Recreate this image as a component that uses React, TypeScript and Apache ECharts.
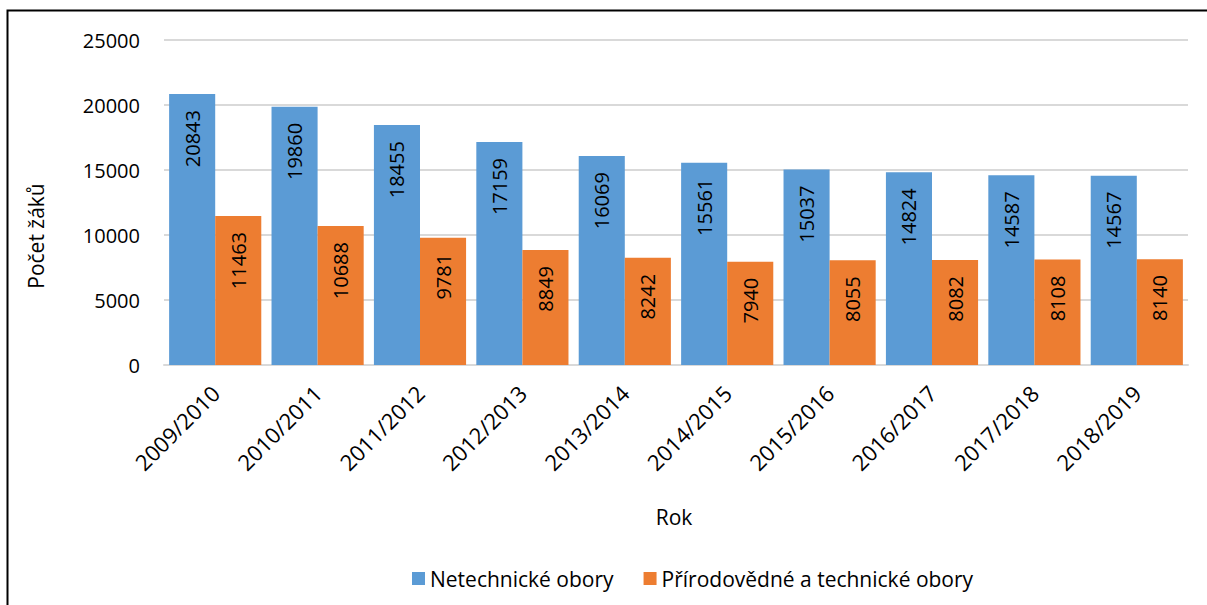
import React, { useEffect, useRef } from "react";
import * as echarts from "echarts";

const categories = ["2009/2010", "2010/2011", "2011/2012", "2012/2013", "2013/2014", "2014/2015", "2015/2016", "2016/2017", "2017/2018", "2018/2019"];
const netechnicke = [20843, 19860, 18455, 17159, 16069, 15561, 15037, 14824, 14587, 14567];
const prirodovedne = [11463, 10688, 9781, 8849, 8242, 7940, 8055, 8082, 8108, 8140];
const seriesNames = ["Netechnické obory", "Přírodovědné a technické obory"];
const yAxisTitle = "Počet žáků";
const xAxisTitle = "Rok";

const FONT = "Open Sans";

export default function App() {
  const ref = useRef<HTMLDivElement>(null);
  useEffect(() => {
    document.body.style.margin = "0";
    const chart = echarts.init(ref.current!, null, { renderer: "svg" });
    const label = {
      show: true,
      position: "insideTop",
      rotate: 90,
      align: "right",
      verticalAlign: "middle",
      distance: 16,
      color: "#000",
      fontFamily: FONT,
      fontSize: 20,
    };
    chart.setOption({
      animation: false,
      backgroundColor: "#fff",
      textStyle: { fontFamily: FONT },
      grid: { left: 164, right: 19, top: 40, bottom: 240 },
      legend: {
        top: 561,
        left: 407,
        itemWidth: 13,
        itemHeight: 13,
        itemGap: 30,
        icon: "rect",
        textStyle: { fontFamily: FONT, fontSize: 21, color: "#000", lineHeight: 25 },
        data: seriesNames,
      },
      xAxis: {
        type: "category",
        data: categories,
        axisLine: { lineStyle: { color: "#d9d9d9", width: 2 } },
        axisTick: { show: false },
        axisLabel: { rotate: 45, margin: 24, color: "#000", fontFamily: FONT, fontSize: 22, interval: 0 },
      },
      yAxis: {
        type: "value",
        min: 0,
        max: 25000,
        interval: 5000,
        axisLine: { show: false },
        axisTick: { show: false },
        splitLine: { lineStyle: { color: "#d9d9d9", width: 2 } },
        axisLabel: { margin: 24, color: "#000", fontFamily: FONT, fontSize: 20, formatter: (v: number) => String(v) },
      },
      series: [
        {
          name: seriesNames[0],
          type: "bar",
          data: netechnicke,
          barGap: "0%",
          barCategoryGap: "10%",
          itemStyle: { color: "#5B9BD5" },
          label,
        },
        {
          name: seriesNames[1],
          type: "bar",
          data: prirodovedne,
          barGap: "0%",
          barCategoryGap: "10%",
          itemStyle: { color: "#ED7D31" },
          label,
        },
      ],
      graphic: [
        {
          type: "rect",
          shape: { x: 7.5, y: 10.5, width: 1220, height: 620 },
          style: { fill: "none", stroke: "#000", lineWidth: 2 },
          silent: true,
        },
        {
          type: "text",
          x: 36,
          y: 236,
          rotation: Math.PI / 2,
          style: { text: yAxisTitle, fontFamily: FONT, fontSize: 21, fill: "#000", align: "center", verticalAlign: "middle" },
        },
        {
          type: "text",
          x: 674,
          y: 517,
          style: { text: xAxisTitle, fontFamily: FONT, fontSize: 21, fill: "#000", align: "center", verticalAlign: "middle" },
        },
      ],
    });
    return () => chart.dispose();
  }, []);
  return <div ref={ref} style={{ width: 1207, height: 605 }} />;
}
